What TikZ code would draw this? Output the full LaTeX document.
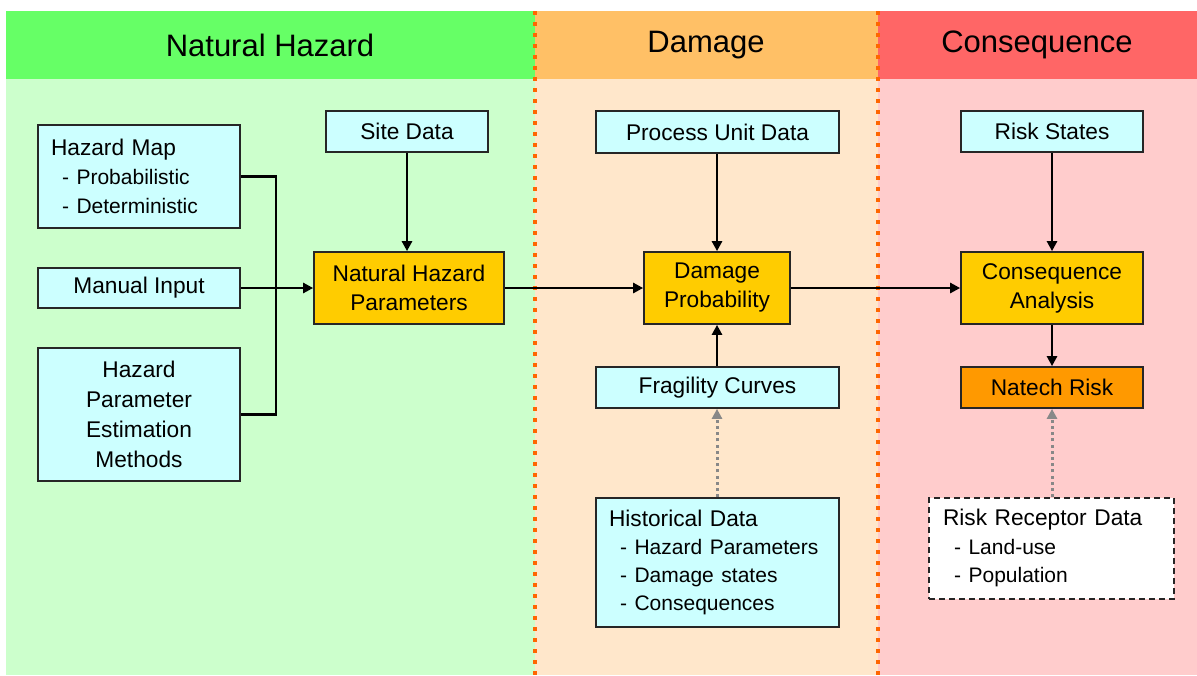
\documentclass[tikz,border=0pt]{standalone}
\usepackage{fontspec}
\setmainfont{Liberation Sans}
\usetikzlibrary{arrows.meta}
\definecolor{hdrgreen}{HTML}{66FF66}
\definecolor{bodygreen}{HTML}{CCFFCC}
\definecolor{hdrorange}{HTML}{FFC066}
\definecolor{bodyorange}{HTML}{FFE7CB}
\definecolor{hdrred}{HTML}{FF6666}
\definecolor{bodyred}{HTML}{FFCCCC}
\definecolor{cyanbox}{HTML}{CCFFFF}
\definecolor{yellowbox}{HTML}{FFCC00}
\definecolor{natech}{HTML}{FF9900}
\definecolor{sepcol}{HTML}{FF6600}
\definecolor{dotgray}{HTML}{888888}
\newcommand{\myitem}[1]{\mbox{\hspace*{5.5pt}\fontsize{10.5}{14}\selectfont- #1}}
\begin{document}
\begin{tikzpicture}[x=0.5pt,y=-0.5pt,
  hdr/.style={font=\fontsize{15.5}{18}\selectfont, text=black},
  box/.style={draw=black!85, line width=0.85pt, inner sep=0pt, text=black,
    font=\fontsize{11.35}{14.5}\selectfont, align=center},
  databox/.style={box, fill=cyanbox},
  procbox/.style={box, fill=yellowbox},
  sepline/.style={draw=sepcol, line width=2pt, dash pattern=on 2pt off 3.5pt},
  arr/.style={draw=black, line width=1.35pt, -{Triangle[length=5pt,width=5pt]}},
  bus/.style={draw=black, line width=1.35pt},
  dotarr/.style={draw=dotgray, line width=1.5pt, dash pattern=on 1.5pt off 1.6pt,
    -{Triangle[length=5pt,width=5pt,fill=dotgray]}}
]
\useasboundingbox (0,0) rectangle (1197,675);
% backgrounds
\fill[hdrgreen] (6,11) rectangle (535,79);
\fill[bodygreen] (6,79) rectangle (535,675);
\fill[hdrorange] (535,11) rectangle (878,79);
\fill[bodyorange] (535,79) rectangle (878,675);
\fill[hdrred] (878,11) rectangle (1197,79);
\fill[bodyred] (878,79) rectangle (1197,675);
\draw[sepline] (535,11) -- (535,675);
\draw[sepline] (878,11) -- (878,675);
% headers
\node[hdr] (h1) at (270,45) {Natural Hazard};
\node[hdr] (h2) at (706,45) {Damage};
\node[hdr] (h3) at (1037,45) {Consequence};
% Natural hazard column
\node[databox, minimum width=101pt, minimum height=51.5pt, text width=88pt, align=left] (hm) at (139,176.5)
  {\mbox{Hazard Map}\\\myitem{Probabilistic}\\\myitem{Deterministic}};
\node[databox, minimum width=101pt, minimum height=20pt] (mi) at (139,288) {Manual Input};
\node[databox, minimum width=101pt, minimum height=66.5pt, font=\fontsize{11.35}{14.9}\selectfont] (hpem) at (139,414.5)
  {Hazard\\Parameter\\Estimation\\Methods};
\node[databox, minimum width=81pt, minimum height=20.5pt] (sd) at (407,131.5) {Site Data};
\node[procbox, minimum width=95pt, minimum height=36pt] (nhp) at (409,288) {Natural Hazard\\Parameters};
% Damage column
\node[databox, minimum width=121.5pt, minimum height=21pt] (pud) at (717.5,132) {Process Unit Data};
\node[procbox, minimum width=73pt, minimum height=36pt] (dp) at (717,288) {Damage\\Probability};
\node[databox, minimum width=121.5pt, minimum height=20.5pt] (fc) at (717.5,387.5) {Fragility Curves};
\node[databox, minimum width=121.5pt, minimum height=64.5pt, text width=108.5pt, align=left,
  font=\fontsize{11.35}{14}\selectfont] (hd) at (717.5,562.5)
  {\mbox{Historical Data}\\\myitem{Hazard Parameters}\\\myitem{Damage states}\\\myitem{Consequences}};
% Consequence column
\node[databox, minimum width=91pt, minimum height=20.5pt] (rs) at (1052,131.5) {Risk States};
\node[procbox, minimum width=91pt, minimum height=36pt] (ca) at (1052,288) {Consequence\\Analysis};
\node[box, fill=natech, minimum width=91pt, minimum height=20.5pt] (nr) at (1052,387.5) {Natech Risk};
\node[box, fill=white, dash pattern=on 3pt off 2pt, minimum width=122.5pt, minimum height=50.5pt,
  text width=108.5pt, align=left, font=\fontsize{11.35}{14.2}\selectfont] (rrd) at (1051.5,548.5)
  {\mbox{Risk Receptor Data}\\\myitem{Land-use}\\\myitem{Population}\vphantom{g}\\[-2pt]};
% connectors
\draw[bus] (hm.east) -- ++(35,0) |- (hpem.east);
\draw[arr] (mi.east) -- (nhp.west |- mi.east);
\draw[arr] (sd.south) -- (sd.south |- nhp.north);
\draw[arr] (nhp.east) -- (dp.west);
\draw[arr] (pud.south -| dp.north) -- (dp.north);
\draw[arr] (fc.north -| dp.south) -- (dp.south);
\draw[arr] (dp.east) -- (ca.west);
\draw[arr] (rs.south) -- (ca.north);
\draw[arr] (ca.south) -- (nr.north);
\draw[dotarr] (hd.north -| dp.south) -- (fc.south -| dp.south);
\draw[dotarr] (rrd.north -| nr.south) -- (nr.south);
\end{tikzpicture}
\end{document}
